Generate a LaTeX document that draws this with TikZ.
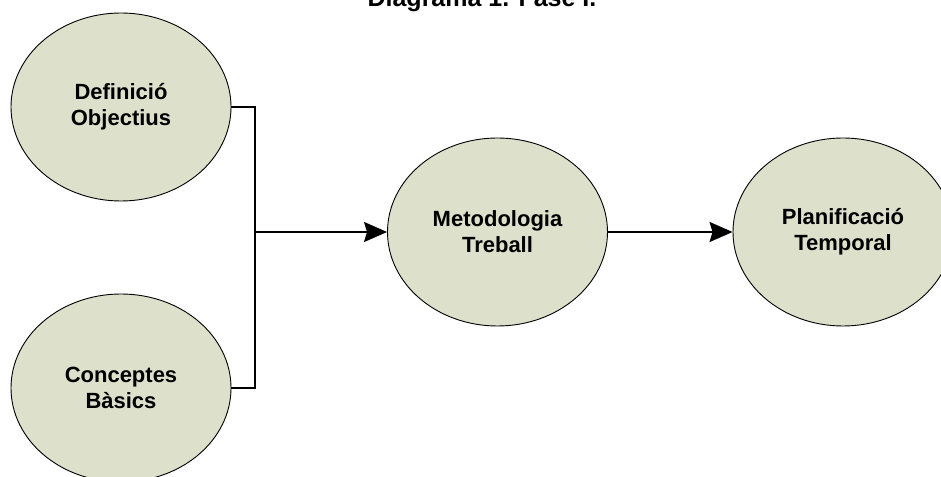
\documentclass[tikz,border=0pt]{standalone}
\usepackage{fontspec}
\setmainfont{Liberation Sans}
\usetikzlibrary{shapes.geometric,arrows.meta}
\definecolor{ovalfill}{RGB}{221,224,202}
\tikzset{
  oval/.style={ellipse, draw=black, line width=0.9pt, fill=ovalfill,
    minimum width=220pt, minimum height=188pt, inner sep=0pt,
    align=center, font=\fontsize{22}{26}\selectfont\bfseries},
  conn/.style={line width=2pt, black},
  arr/.style={conn, -{Stealth[length=23pt,width=20pt,inset=3pt]}}
}
\begin{document}
\begin{tikzpicture}[x=1pt,y=1pt]
\useasboundingbox (0,0) rectangle (941,476);
\node[anchor=base, font=\fontsize{25}{30}\selectfont\bfseries] (title) at (482,469.5) {Diagrama 1. Fase I.};
\node[oval] (def) at (121,369) {Definició\\Objectius};
\node[oval] (con) at (121,88) {Conceptes\\Bàsics};
\node[oval] (met) at (497.5,244) {Metodologia\\Treball};
\node[oval] (pla) at (843,244) {Planificació\\Temporal};
\coordinate (jt) at (255,369);
\coordinate (jb) at (255,88);
\coordinate (jm) at (255,244);
\draw[conn] (def.east) -- (jt) -- (jb) -- (con.east);
\draw[arr] (jm) -- (met.west);
\draw[arr] (met.east) -- (pla.west);
\end{tikzpicture}
\end{document}
